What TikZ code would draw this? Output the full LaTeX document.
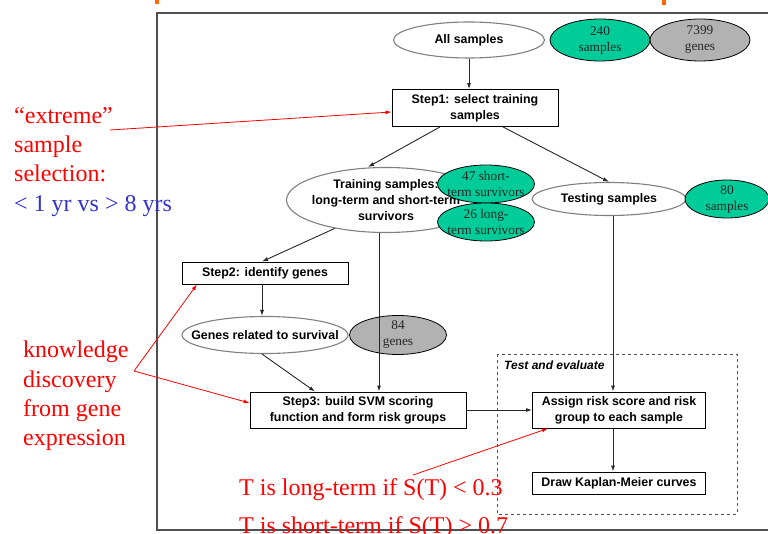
\documentclass[tikz,border=0pt]{standalone}
\usepackage{fontspec}
\setmainfont{Liberation Serif}
\newfontfamily\arialf{Liberation Sans}
\usetikzlibrary{arrows.meta, shapes.geometric, positioning}

\definecolor{survgreen}{RGB}{0,204,153}
\definecolor{genegray}{RGB}{178,178,178}
\definecolor{notered}{RGB}{255,0,0}
\definecolor{noteblue}{RGB}{51,51,204}
\definecolor{framegray}{RGB}{80,80,80}
\definecolor{titleorange}{RGB}{255,102,0}

\begin{document}
\begin{tikzpicture}[x=1pt, y=-1pt, >={Latex[length=6pt,width=4pt]},
  flow/.style={draw=black!85, line width=0.9pt},
  stepbox/.style={rectangle, draw, line width=0.9pt, inner sep=0pt, align=center,
    font=\arialf\bfseries\fontsize{12.4}{16}\selectfont},
  phase/.style={ellipse, draw=gray, line width=1.1pt, inner xsep=-40pt, inner ysep=-12pt,
    align=center, font=\arialf\bfseries\fontsize{12.4}{16}\selectfont},
  count/.style={ellipse, draw=black, line width=0.8pt, inner xsep=-40pt, inner ysep=-12pt,
    align=center, text=black!85, font=\fontsize{13.3}{16}\selectfont},
  samplecount/.style={count, fill=survgreen},
  genecount/.style={count, fill=genegray},
  note/.style={text=notered, align=left, anchor=north west, inner sep=0pt,
    font=\fontsize{24}{29.3}\selectfont},
  annot/.style={draw=notered, line width=0.8pt, ->},
]
\useasboundingbox (0,0) rectangle (768,534);

% slide frame and cut-off title
\draw[framegray, line width=1.5pt] (775,13) -- (157,13) -- (157,530) -- (775,530);
\fill[titleorange] (155,0) rectangle (159,4);
\fill[titleorange] (662,0) rectangle (666,5);

% samples
\node[phase, minimum width=151, minimum height=36] (all) at (469,40) {All samples};
\node[samplecount, minimum width=100, minimum height=42] (s240) at (600,40) {240\\samples};
\node[genecount, minimum width=100, minimum height=42] (g7399) at (700,40) {7399\\genes};
\node[stepbox, minimum width=166, minimum height=37] (step1) at (475,108) {Step1: select training\\samples};

\node[phase, minimum width=199, minimum height=65] (train) at (386,200)
  {Training samples:\\long-term and short-term\\survivors};
\node[samplecount, minimum width=97, minimum height=38] (short) at (486,184) {47 short-\\term survivors};
\node[samplecount, minimum width=97, minimum height=38] (long) at (486,222) {26 long-\\term survivors};
\node[phase, minimum width=154, minimum height=33] (test) at (609,199) {Testing samples};
\node[samplecount, minimum width=84, minimum height=38] (s80) at (727,199) {80\\samples};

% genes
\node[stepbox, minimum width=166, minimum height=22] (step2) at (265,273) {Step2: identify genes};
\node[phase, minimum width=166, minimum height=37] (genes) at (265,335) {Genes related to survival};
\node[genecount, minimum width=97, minimum height=39] (g84) at (398,335) {84\\genes};
\node[stepbox, minimum width=216, minimum height=36] (step3) at (358,410)
  {Step3: build SVM scoring\\function and form risk groups};

% test and evaluate
\draw[dashed, line width=0.8pt, framegray] (497,354) rectangle (737,514);
\node[anchor=west, inner sep=0pt, font=\arialf\bfseries\itshape\fontsize{12}{14}\selectfont]
  (evallbl) at (504,365) {Test and evaluate};
\node[stepbox, minimum width=173, minimum height=36] (assign) at (619,410)
  {Assign risk score and risk\\group to each sample};
\node[stepbox, minimum width=173, minimum height=22] (kmc) at (619,483) {Draw Kaplan-Meier curves};

\draw[flow,->] (all) -- (all |- step1.north);
\draw[flow,->] ([xshift=-35pt]step1.south) -- ([xshift=-18pt]train.north);
\draw[flow,->] ([xshift=28pt]step1.south) -- (test.north);
\draw[flow,->] (train.209) -- ([xshift=-3pt]step2.north);
\draw[flow,->] ([xshift=-7pt]train.south) -- ([xshift=-7pt]train.south |- step3.north);
\draw[flow,->] ([xshift=-3pt]step2.south) -- ([xshift=-3pt]step2.south |- genes.north);
\draw[flow,->] ([xshift=-3pt]genes.south) -- ([xshift=-43pt]step3.north);
\draw[flow,->] (step3.east) -- (assign.west);
\draw[flow,->] ([xshift=4pt]test.south) -- ([xshift=4pt]test.south |- assign.north);
\draw[flow,->] ([xshift=-6pt]assign.south) -- ([xshift=-6pt]assign.south |- kmc.north);

% red notes
\node[note] (extreme) at (14,107)
  {``extreme''\\sample\\selection:\\\textcolor{noteblue}{< 1 yr vs > 8 yrs}};
\node[note] (knowledge) at (23,341) {knowledge\\discovery\\from gene\\expression};
\node[note, font=\fontsize{24}{38}\selectfont] (cutoff) at (239,478)
  {T is long-term if S(T) < 0.3\\T is short-term if S(T) > 0.7};

\coordinate (exfoot) at (110,130);
\coordinate (kdfoot) at (134,371);
\coordinate (tfoot) at (413,475);
\draw[annot] (exfoot) -- ([yshift=-4pt]step1.west);
\draw[annot] (kdfoot) -- ([xshift=-68pt]step2.south);
\draw[annot] (kdfoot) -- ([yshift=7pt]step3.west);
\draw[annot] (tfoot) -- ([xshift=-71pt]assign.south);
\end{tikzpicture}
\end{document}
